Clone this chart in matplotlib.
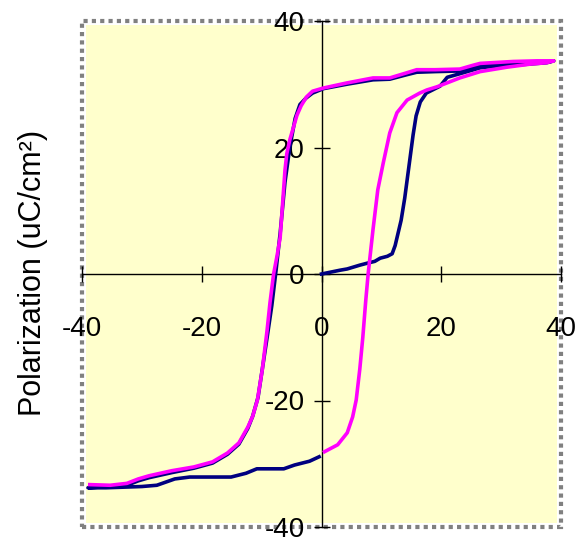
import matplotlib
matplotlib.use("Agg")
import matplotlib.pyplot as plt
from matplotlib.patches import Rectangle

plt.rcParams["font.family"] = ["Liberation Sans", "DejaVu Sans"]
plt.rcParams["axes.unicode_minus"] = False

# first loop (navy): virgin curve from origin, then full loop back to E=0
navy_x = [0.0, 3.1, 4.3, 6.4, 7.6, 8.9, 9.8, 11.0, 11.8, 12.3, 12.8, 13.3, 13.9, 14.6, 15.3,
          15.8, 16.5, 17.5, 19.8, 21.0, 23.6, 26.5, 29.3, 32.0, 34.8, 37.6, 38.8,
          37.6, 32.0, 26.5, 25.3, 23.1, 19.0, 15.9, 14.2, 11.4, 8.6, 4.2, 0.3, -1.5,
          -2.6, -3.6, -4.4, -5.3, -6.1, -6.9, -7.6, -8.3, -9.0, -9.8, -10.6, -11.5,
          -12.3, -13.8, -15.7, -18.2, -21.3, -25.0, -28.8, -30.6, -32.5, -35.5, -39.0,
          -36.0, -30.0, -27.5, -24.5, -22.0, -18.0, -15.1, -12.6, -10.8, -8.0, -6.3,
          -4.5, -2.0, -0.4]
navy_y = [0.0, 0.6, 0.8, 1.4, 1.7, 2.0, 2.5, 2.8, 3.2, 4.5, 6.5, 8.5, 12.0, 17.0, 22.0,
          25.0, 27.2, 28.6, 29.7, 31.1, 31.8, 32.6, 32.9, 33.0, 33.2, 33.4, 33.7,
          33.5, 33.3, 33.0, 32.8, 32.1, 32.0, 31.9, 31.5, 30.8, 30.7, 30.0, 29.3, 28.6,
          27.8, 26.8, 24.6, 20.0, 14.5, 6.5, 0.5, -5.0, -9.5, -14.5, -19.5, -22.5,
          -24.4, -26.9, -28.5, -29.9, -30.7, -31.4, -32.2, -32.7, -33.4, -33.6, -33.8,
          -33.8, -33.6, -33.4, -32.4, -32.1, -32.1, -32.1, -31.5, -30.8, -30.8, -30.8,
          -30.2, -29.6, -28.9]

# second loop (magenta): starts at negative remanence
mag_x = [0.5, 2.7, 4.3, 5.2, 5.8, 6.4, 6.9, 7.4, 7.8, 8.6, 9.4, 10.3, 11.4, 12.6,
         14.3, 16.4, 17.6, 19.3, 23.1, 26.5, 31.0, 35.0, 37.6, 38.8,
         36.0, 32.0, 26.5, 25.3, 23.1, 19.0, 15.9, 14.2, 11.4, 8.6, 4.2, 0.3, -1.5,
         -2.5, -3.4, -4.1, -5.3, -5.8, -6.1, -6.9, -7.4, -8.0, -8.6, -9.1, -9.9,
         -10.7, -11.5, -12.3, -13.8, -15.7, -18.2, -21.3, -25.0, -28.8, -30.6,
         -32.5, -35.3, -38.7]
mag_y = [-28.1, -27.0, -25.1, -22.6, -19.9, -15.0, -10.0, -4.1, 0.1, 7.0, 13.3, 17.5,
         22.3, 25.5, 27.5, 28.6, 29.1, 29.6, 31.0, 32.0, 32.7, 33.2, 33.4, 33.7,
         33.7, 33.6, 33.3, 33.0, 32.4, 32.3, 32.3, 31.8, 31.0, 31.0, 30.2, 29.4, 28.9,
         28.0, 26.6, 25.1, 21.2, 19.0, 16.4, 5.8, 3.0, 0.0, -4.5, -9.0, -15.2,
         -19.9, -22.5, -24.2, -26.7, -28.3, -29.7, -30.5, -31.1, -31.9, -32.4,
         -33.1, -33.4, -33.3]

ticks = [-40, -20, 0, 20, 40]

fig = plt.figure(figsize=(5.82, 5.39), dpi=100)
ax = fig.add_axes([82 / 582, 12 / 539, 479 / 582, 506 / 539])
ax.set_facecolor("none")
ax.add_patch(Rectangle((0.008, 0.008), 0.984, 0.984, transform=ax.transAxes,
                       facecolor="#ffffcc", edgecolor="none", zorder=0))
ax.add_patch(Rectangle((0, 0), 1, 1, transform=ax.transAxes, facecolor="none",
                       edgecolor="#808080", lw=3, linestyle=(0, (1, 1)),
                       clip_on=False, zorder=1))

ax.plot(navy_x, navy_y, color="#000080", lw=2.6, zorder=3)
ax.plot(mag_x, mag_y, color="#ff00ff", lw=2.6, zorder=4)

ax.set_xlim(-40, 40)
ax.set_ylim(-40, 40)
ax.set_xticks(ticks)
ax.set_yticks(ticks)
for side in ("top", "right"):
    ax.spines[side].set_visible(False)
for side in ("left", "bottom"):
    ax.spines[side].set_position(("data", 0))
    ax.spines[side].set_linewidth(1.0)
    ax.spines[side].set_zorder(2)
ax.tick_params(axis="both", direction="inout", length=12, width=1.0, labelsize=20)
ax.tick_params(axis="x", pad=24)
ax.tick_params(axis="y", pad=6)

fig.text(33 / 582, 1 - 273 / 539, "Polarization (uC/cm²)", rotation=90,
         ha="center", va="center", fontsize=22)

fig.savefig("out.png", dpi=100)
